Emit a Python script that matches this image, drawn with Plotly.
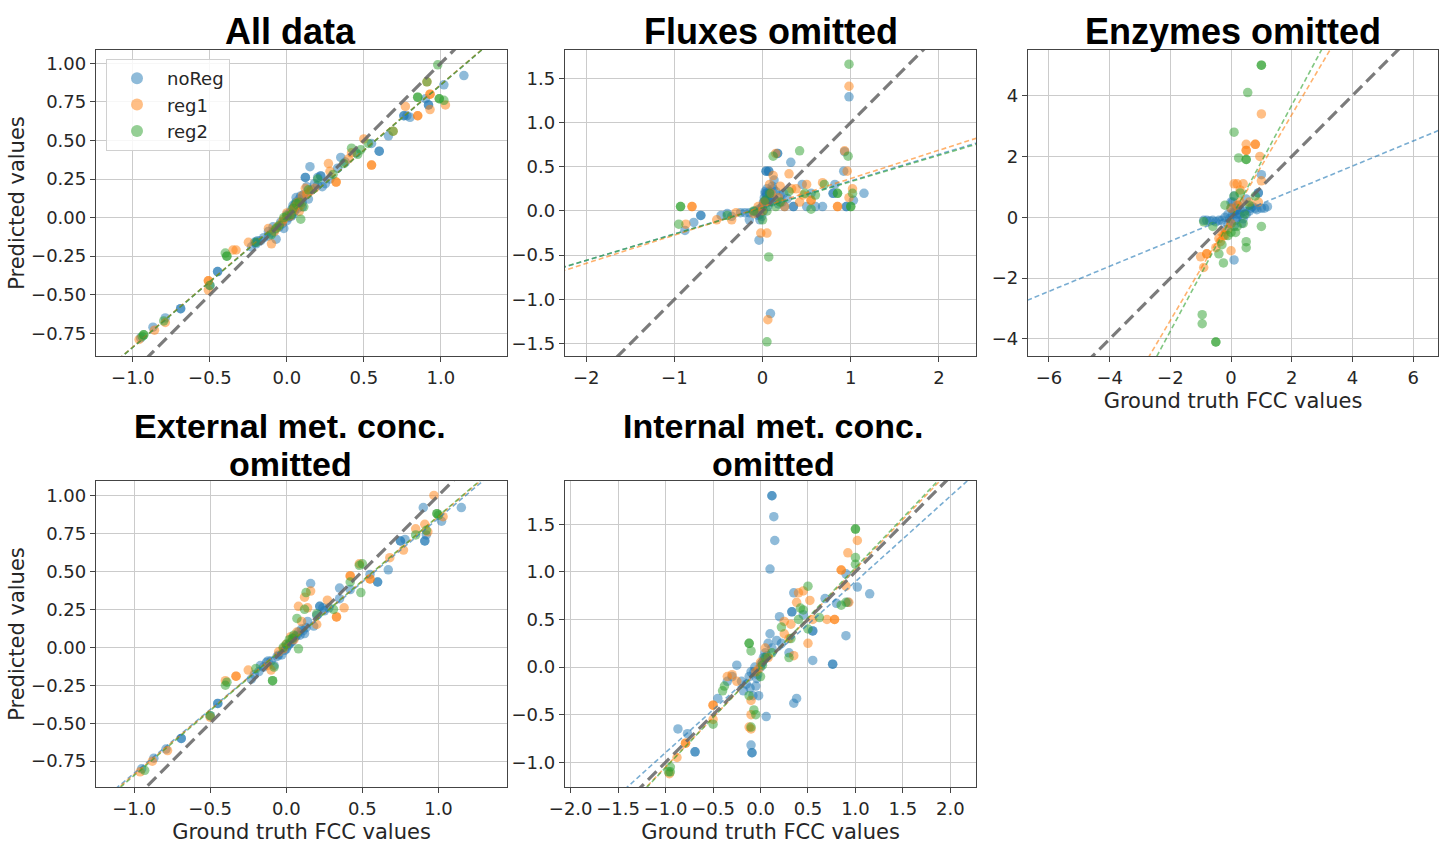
import plotly.graph_objects as go

W, H = 1445, 844

series_names = ["noReg", "reg1", "reg2"]
series_colors = ["#1f77b4", "#ff7f0e", "#2ca02c"]
fit_colors = ["rgba(31,119,180,0.6)", "rgba(255,127,14,0.6)", "rgba(44,160,44,0.6)"]

panel_titles = ["All data", "Fluxes omitted", "Enzymes omitted",
                "External met. conc.<br>omitted", "Internal met. conc.<br>omitted"]

# ---------------- Panel 1: All data ----------------
all_noreg_x = [-0.95, -0.87, -0.79, -0.69, -0.45, -0.50, -0.23, -0.21, -0.19, -0.17, -0.12, -0.10, -0.08, -0.07,
               -0.05, -0.03, -0.02, 0.00, 0.01, 0.02, 0.03, 0.04, 0.05, 0.06, 0.07, 0.08, 0.09, 0.10, 0.12, 0.13,
               0.15, 0.16, 0.18, 0.20, 0.22, 0.25, 0.28, 0.33, 0.35, 0.38, 0.45, 0.55, 0.60, 0.66, 0.76, 0.78,
               0.80, 0.90, 0.92, 1.02, 1.15, 0.02, 0.05, 0.08, -0.15,
               -0.04, 0.00, 0.03, 0.05, 0.07, 0.10, 0.11, -0.09, -0.12, 0.14, 0.20, 0.23, 0.04, -0.20, 0.06,
               -0.45, -0.69, 0.60, 0.76, 0.92, 0.12, 0.22, -0.20]
all_noreg_y = [-0.78, -0.71, -0.65, -0.59, -0.35, -0.44, -0.19, -0.16, -0.15, -0.15, -0.09, -0.10, -0.08, -0.14,
               -0.06, -0.04, -0.07, -0.02, 0.00, 0.03, 0.05, 0.02, 0.08, 0.10, 0.06, 0.12, 0.14, 0.10, 0.26, 0.20,
               0.33, 0.18, 0.22, 0.26, 0.27, 0.22, 0.25, 0.32, 0.39, 0.36, 0.42, 0.48, 0.43, 0.53, 0.66, 0.66,
               0.65, 0.77, 0.73, 0.86, 0.92, 0.01, 0.06, 0.09, -0.13,
               -0.03, 0.02, 0.01, 0.04, 0.09, 0.07, 0.15, -0.06, -0.12, 0.12, 0.21, 0.20, 0.08, -0.17, 0.13,
               -0.35, -0.59, 0.43, 0.66, 0.73, 0.26, 0.27, -0.16]
all_reg1_x = [-0.96, -0.86, -0.79, -0.51, -0.51, -0.35, -0.33, -0.25, -0.12, -0.10, -0.06, -0.03, 0.00, 0.02,
              0.05, 0.08, 0.10, 0.12, 0.15, 0.18, 0.27, 0.28, 0.32, 0.40, 0.42, 0.50, 0.55, 0.69, 0.77, 0.85,
              0.93, 0.93, 1.03, 0.91, -0.02, 0.04, 0.07, 0.09, -0.08, 0.13,
              -0.51, 0.55, 0.85, 0.32, 0.93]
all_reg1_y = [-0.79, -0.73, -0.68, -0.41, -0.47, -0.21, -0.21, -0.16, -0.07, -0.17, -0.06, -0.03, 0.03, 0.01,
              0.07, 0.04, 0.14, 0.19, 0.17, 0.19, 0.35, 0.30, 0.23, 0.38, 0.42, 0.51, 0.34, 0.56, 0.72, 0.66,
              0.70, 0.80, 0.73, 0.88, -0.01, 0.05, 0.10, 0.08, -0.09, 0.15,
              -0.41, 0.34, 0.66, 0.23, 0.80]
all_reg2_x = [-0.94, -0.93, -0.80, -0.50, -0.40, -0.39, -0.20, -0.10, -0.05, 0.00, 0.03, 0.06, 0.09, 0.11,
              0.14, 0.20, 0.30, 0.37, 0.42, 0.46, 0.48, 0.53, 0.69, 0.85, 0.91, 0.98, 0.99, 1.02,
              -0.02, 0.04, 0.08, -0.07, -0.93, 0.85, 0.99, -0.39]
all_reg2_y = [-0.77, -0.76, -0.67, -0.44, -0.23, -0.25, -0.16, -0.11, -0.05, 0.01, 0.02, 0.09, -0.01, 0.07,
              0.18, 0.25, 0.28, 0.35, 0.45, 0.41, 0.44, 0.48, 0.56, 0.78, 0.88, 0.99, 0.77, 0.76,
              0.00, 0.06, 0.10, -0.07, -0.76, 0.78, 0.77, -0.25]
all_fit_slope = [0.85, 0.85, 0.85]
all_fit_intercept = [0.01, 0.012, 0.01]

# ---------------- Panel 2: Fluxes omitted ----------------
flux_noreg_x = [-0.88, -0.78, -0.70, -0.47, -0.40, -0.35, -0.25, -0.20, -0.15, -0.10, -0.08, -0.05, -0.03, -0.02,
                0.00, 0.01, 0.02, 0.03, 0.05, 0.04, 0.07, 0.08, 0.10, 0.13, 0.15, 0.17, 0.20, 0.22, 0.25, 0.32,
                0.35, 0.45, 0.50, 0.55, 0.60, 0.68, 0.80, 0.82, 0.92, 0.93, 0.95, 0.98, 1.03, 1.15, 0.09, -0.04,
                -0.15, 0.03, 0.06, 0.12,
                -0.06, -0.04, -0.01, 0.01, 0.02, 0.04, 0.05, 0.06, 0.08, 0.10, 0.11, 0.14, 0.18, 0.24, 0.28,
                -0.70, 0.04, 0.07, 0.17, 0.35, 0.80, 0.95, 0.00, 0.02, 0.05, -0.03]
flux_noreg_y = [-0.22, -0.13, -0.05, -0.05, -0.03, -0.06, -0.02, -0.02, -0.02, -0.01, 0.00, -0.05, -0.10, 0.03,
                0.05, 0.10, 0.15, 0.20, 0.25, 0.45, 0.45, 0.15, 0.10, 0.35, 0.22, 0.65, 0.18, 0.10, 0.05, 0.55,
                0.05, 0.30, 0.05, 0.20, 0.05, 0.05, 0.20, 0.30, 0.45, 0.67, 0.05, 1.29, 0.12, 0.20, -1.16, -0.33,
                -0.10, 0.22, 0.12, 0.25,
                -0.02, 0.02, -0.06, 0.00, 0.08, 0.12, 0.18, 0.05, 0.22, 0.16, 0.28, 0.12, 0.08, 0.20, 0.14,
                -0.05, 0.45, 0.45, 0.65, 0.05, 0.20, 0.05, 0.05, 0.10, 0.20, -0.04]
flux_reg1_x = [-0.87, -0.80, -0.52, -0.35, -0.30, -0.10, -0.05, -0.02, 0.00, 0.05, 0.08, 0.12, 0.15, 0.18,
               0.25, 0.30, 0.33, 0.42, 0.50, 0.55, 0.68, 0.85, 0.93, 0.96, 0.98, 1.02, 0.98, 0.06,
               0.02, 0.10, 0.20, 0.38, 0.46, -0.80, 0.55, 0.85]
flux_reg1_y = [-0.15, 0.05, -0.10, -0.10, -0.02, -0.03, 0.05, -0.25, 0.00, -0.25, 0.30, 0.40, 0.65, 0.15,
               0.05, 0.42, 0.25, 0.10, 0.30, 0.12, 0.32, 0.05, 0.68, 0.45, 0.15, 0.25, 1.41, -1.23,
               0.10, 0.20, 0.28, 0.25, 0.18, 0.05, 0.12, 0.05]
flux_reg2_x = [-0.93, -0.95, -0.40, -0.10, 0.00, 0.05, 0.08, 0.12, 0.20, 0.42, 0.48, 0.55, 0.70, 0.85, 0.97,
               1.00, 1.02, 0.98, 0.07, 0.05, 0.03, 0.15, 0.30, 0.60, -0.93, 1.00, 0.85]
flux_reg2_y = [0.05, -0.15, -0.05, 0.00, -0.10, 0.00, 0.20, 0.62, 0.10, 0.68, 0.20, 0.02, 0.30, 0.20, 0.62,
               0.05, 0.20, 1.66, -0.52, -1.48, 0.12, 0.05, 0.22, 0.18, 0.05, 0.05, 0.20]
flux_fit_slope = [0.30, 0.32, 0.297]
flux_fit_intercept = [0.04, 0.047, 0.035]

# ---------------- Panel 3: Enzymes omitted ----------------
enz_noreg_x = [-0.9, -0.7, -0.5, -0.3, -0.2, -0.1, 0.0, 0.0, 0.05, 0.1, 0.1, 0.15, 0.2, 0.25, 0.3, 0.4, 0.5,
               0.6, 0.7, 0.8, 0.9, 1.0, 1.0, 1.2, 0.1, -0.2, 0.35, 0.5, 0.05, 0.15, -0.05,
               -0.6, -0.4, -0.1, 0.0, 0.2, 0.3, 0.45, 0.65, 0.85, 1.1, -0.8, 0.1, 0.2, 0.9]
enz_noreg_y = [-0.1, -0.12, -0.15, -0.1, 0.0, 0.1, 0.3, -0.2, 0.5, 0.7, -0.3, 0.2, 0.0, 0.4, 0.1, -0.05, 0.1,
               0.2, 0.35, 0.3, 0.8, 0.3, 1.4, 0.35, -1.4, -0.4, -0.2, 0.6, 0.1, -0.1, -0.05,
               -0.1, -0.1, -0.2, 0.5, 0.3, 0.25, 0.2, 0.3, 0.25, 0.3, -0.1, 0.2, 0.1, 0.8]
enz_reg1_x = [-1.0, -0.8, -0.9, -0.5, -0.4, -0.3, -0.2, -0.1, 0.0, 0.0, 0.1, 0.2, 0.3, 0.4, 0.5, 0.5, 0.8,
              0.95, 1.0, 0.3, 0.6, 0.9, 1.0, 0.0, -0.35, -0.25, 0.2, 0.5, 0.8, -0.8]
enz_reg1_y = [-1.3, -1.2, -1.65, -1.0, -0.7, -0.5, -0.6, -0.4, -1.1, -0.2, 1.1, 1.1, 0.9, 1.1, 2.2, 2.4, 2.4,
              2.0, 3.4, 0.5, 0.5, 0.5, 1.2, 0.3, -0.8, -0.6, 0.4, 2.2, 2.4, -1.2]
enz_reg2_x = [-0.9, -0.95, -0.95, -0.5, -0.4, -0.25, -0.3, 0.0, 0.1, 0.1, 0.25, 0.5, 0.5, 0.5, 0.55, 1.0,
              1.0, 0.2, 0.4, 0.3, -0.2, 0.6, 0.8, -0.1, -0.6, 0.15, 0.45, 1.0, -0.5, 0.5]
enz_reg2_y = [-0.15, -3.2, -3.5, -4.1, -1.2, -1.5, -0.9, -0.5, 2.8, 0.7, 1.95, 1.9, -0.8, -1.0, 4.1, 5.0,
              -0.3, -0.3, -0.2, 0.8, 0.4, 0.4, 0.7, -0.6, -0.3, -0.5, 0.1, 5.0, -4.1, 1.9]
enz_fit_slope = [0.412, 1.69, 1.856]
enz_fit_intercept = [0.037, -0.01, -0.03]

# ---------------- Panel 4: External met. conc. omitted ----------------
ext_noreg_x = [-0.95, -0.87, -0.79, -0.69, -0.45, -0.50, -0.23, -0.21, -0.18, -0.15, -0.13, -0.10, -0.08, -0.05,
               -0.03, 0.00, 0.02, 0.04, 0.06, 0.08, 0.10, 0.12, 0.14, 0.16, 0.18, 0.22, 0.25, 0.28, 0.35, 0.35,
               0.42, 0.55, 0.60, 0.67, 0.75, 0.78, 0.90, 0.91, 0.92, 1.02, 1.15, 0.03, 0.07, -0.12,
               -0.06, -0.01, 0.01, 0.05, 0.09, 0.11, 0.13, -0.17, 0.20, 0.24,
               -0.45, -0.69, 0.60, 0.75, 0.91, 0.22]
ext_noreg_y = [-0.80, -0.73, -0.67, -0.60, -0.37, -0.45, -0.21, -0.18, -0.16, -0.13, -0.10, -0.09, -0.12, -0.05,
               -0.05, -0.01, 0.02, 0.04, 0.07, 0.10, 0.12, 0.09, 0.17, 0.42, 0.14, 0.27, 0.24, 0.26, 0.39, 0.32,
               0.38, 0.48, 0.43, 0.51, 0.70, 0.71, 0.92, 0.70, 0.74, 0.83, 0.92, 0.03, 0.08, -0.09,
               -0.06, -0.02, 0.01, 0.06, 0.08, 0.11, 0.13, -0.12, 0.21, 0.26,
               -0.37, -0.60, 0.43, 0.70, 0.70, 0.27]
ext_reg1_x = [-0.96, -0.88, -0.78, -0.50, -0.40, -0.33, -0.25, -0.12, -0.10, -0.05, 0.00, 0.03, 0.08, 0.10,
              0.12, 0.14, 0.16, 0.20, 0.27, 0.33, 0.38, 0.42, 0.48, 0.55, 0.68, 0.77, 0.85, 0.91, 0.93, 1.03, 0.97,
              -0.02, 0.05, 0.07, -0.33, 0.33, 0.55, 0.42]
ext_reg1_y = [-0.82, -0.75, -0.68, -0.46, -0.22, -0.19, -0.15, -0.12, -0.15, -0.03, 0.02, 0.07, 0.27, 0.17,
              0.33, 0.26, 0.37, 0.15, 0.31, 0.20, 0.26, 0.47, 0.55, 0.45, 0.59, 0.64, 0.78, 0.81, 0.76, 0.86, 1.00,
              -0.01, 0.05, 0.10, -0.19, 0.20, 0.45, 0.47]
ext_reg2_x = [-0.93, -0.50, -0.40, -0.39, -0.20, -0.09, -0.08, -0.02, 0.02, 0.05, 0.08, 0.12, 0.13, 0.07,
              0.20, 0.31, 0.42, 0.48, 0.50, 0.49, 0.85, 0.92, 0.99, 1.00, 0.00, 0.04, -0.09, 0.99]
ext_reg2_y = [-0.81, -0.45, -0.25, -0.23, -0.14, -0.22, -0.13, 0.00, 0.05, 0.08, -0.01, 0.25, 0.36, 0.19,
              0.22, 0.25, 0.43, 0.54, 0.55, 0.36, 0.74, 0.77, 0.88, 0.87, 0.02, 0.06, -0.22, 0.88]
ext_fit_slope = [0.84, 0.85, 0.855]
ext_fit_intercept = [0.01, 0.012, 0.01]

# ---------------- Panel 5: Internal met. conc. omitted ----------------
int_noreg_x = [-0.87, -0.77, -0.69, -0.45, -0.35, -0.30, -0.25, -0.20, -0.18, -0.12, -0.10, -0.08, -0.06, -0.05,
               -0.03, -0.02, 0.00, 0.02, 0.03, 0.05, 0.06, -0.10, -0.09, 0.08, 0.10, 0.12, 0.14, 0.15, 0.10, 0.20,
               0.22, 0.30, 0.33, 0.35, 0.38, 0.35, 0.45, 0.55, 0.55, 0.68, 0.76, 0.80, 0.90, 0.90, 1.02, 1.15,
               0.92, 0.04, -0.04, -0.15, -0.07, 0.01, 0.07, 0.12, 0.17, -0.11,
               0.12, -0.69, -0.09, 0.76, 0.55, 0.33]
int_noreg_y = [-0.65, -0.70, -0.89, -0.33, -0.15, -0.10, 0.02, -0.15, -0.25, -0.10, -0.05, -0.30, 0.00, -0.20,
               -0.08, -0.30, 0.00, 0.05, 0.10, 0.15, -0.52, -0.82, -0.90, 0.25, 0.35, 1.80, 1.58, 1.33, 1.03, 0.53,
               0.25, 0.15, 0.58, -0.38, -0.33, 0.78, 0.55, 0.38, 0.07, 0.72, 0.03, 0.67, 0.98, 0.33, 0.84, 0.77,
               0.68, 0.08, -0.12, -0.18, -0.05, 0.04, 0.12, 0.20, 0.28, -0.22,
               1.80, -0.89, -0.90, 0.03, 0.38, 0.58]
int_reg1_x = [-0.96, -0.88, -0.79, -0.50, -0.50, -0.35, -0.30, -0.25, -0.10, -0.10, -0.12, -0.10, -0.05, 0.00,
              0.05, 0.25, 0.30, 0.25, 0.35, 0.38, 0.40, 0.45, 0.52, 0.50, 0.55, 0.70, 0.78, 0.85, 0.90, 0.93,
              0.92, 1.02, 0.32, -0.02, 0.08, -0.79, -0.50, 0.85, 0.78]
int_reg1_y = [-1.12, -0.95, -0.80, -0.40, -0.55, -0.10, -0.08, -0.15, -0.35, -0.50, -0.63, -0.65, -0.05, 0.05,
              0.20, 0.48, 0.30, 0.35, 0.12, 0.68, 0.78, 0.80, 0.70, 0.25, 0.50, 0.50, 0.50, 1.02, 0.85, 0.68,
              1.20, 1.33, 0.45, -0.02, 0.10, -0.80, -0.40, 1.02, 0.50]
int_reg2_x = [-0.97, -0.95, -0.50, -0.40, -0.38, -0.12, -0.10, -0.12, -0.10, -0.07, -0.05, 0.00, 0.05, 0.22,
              0.30, 0.32, 0.40, 0.45, 0.50, 0.50, 0.62, 0.85, 0.90, 1.00, 1.00, 1.00, 0.42, 0.02, 0.12,
              1.00, -0.12, -0.95]
int_reg2_y = [-1.10, -1.05, -0.60, -0.25, -0.20, 0.25, 0.17, -0.30, -0.63, -0.45, -0.50, -0.10, 0.10, 0.42,
              0.10, 0.30, 0.50, 0.60, 0.85, 0.40, 0.52, 0.65, 0.68, 1.45, 1.15, 1.08, 0.62, 0.02, 0.15,
              1.45, 0.25, -1.10]
int_fit_slope = [0.898, 1.04, 1.05]
int_fit_intercept = [0.0, -0.009, -0.005]

panel_points = [
    [(all_noreg_x, all_noreg_y), (all_reg1_x, all_reg1_y), (all_reg2_x, all_reg2_y)],
    [(flux_noreg_x, flux_noreg_y), (flux_reg1_x, flux_reg1_y), (flux_reg2_x, flux_reg2_y)],
    [(enz_noreg_x, enz_noreg_y), (enz_reg1_x, enz_reg1_y), (enz_reg2_x, enz_reg2_y)],
    [(ext_noreg_x, ext_noreg_y), (ext_reg1_x, ext_reg1_y), (ext_reg2_x, ext_reg2_y)],
    [(int_noreg_x, int_noreg_y), (int_reg1_x, int_reg1_y), (int_reg2_x, int_reg2_y)],
]
panel_fits = [
    (all_fit_slope, all_fit_intercept),
    (flux_fit_slope, flux_fit_intercept),
    (enz_fit_slope, enz_fit_intercept),
    (ext_fit_slope, ext_fit_intercept),
    (int_fit_slope, int_fit_intercept),
]

# axis ranges and ticks
x_ranges = [[-1.24, 1.43], [-2.24, 2.42], [-6.69, 6.82], [-1.25, 1.45], [-2.06, 2.27]]
y_ranges = [[-0.897, 1.086], [-1.64, 1.82], [-4.56, 5.50], [-0.92, 1.095], [-1.26, 1.955]]
x_ticks = [[-1.0, -0.5, 0.0, 0.5, 1.0], [-2, -1, 0, 1, 2], [-6, -4, -2, 0, 2, 4, 6],
           [-1.0, -0.5, 0.0, 0.5, 1.0], [-2.0, -1.5, -1.0, -0.5, 0.0, 0.5, 1.0, 1.5, 2.0]]
y_ticks = [[-0.75, -0.5, -0.25, 0.0, 0.25, 0.5, 0.75, 1.0], [-1.5, -1.0, -0.5, 0.0, 0.5, 1.0, 1.5],
           [-4, -2, 0, 2, 4], [-0.75, -0.5, -0.25, 0.0, 0.25, 0.5, 0.75, 1.0],
           [-1.0, -0.5, 0.0, 0.5, 1.0, 1.5]]
x_fmt = [".1f", "d", "d", ".1f", ".1f"]
y_fmt = [".2f", ".1f", "d", ".2f", ".1f"]
x_titles = ["", "", "Ground truth FCC values", "Ground truth FCC values", "Ground truth FCC values"]
y_titles = ["Predicted values", "", "", "Predicted values", ""]

# layout boxes in pixels (left, right, top, bottom)
boxes = [(96, 507, 50, 356), (565, 976, 50, 356), (1028, 1438, 50, 356),
         (96, 507, 481, 787), (565, 976, 481, 787)]

fig = go.Figure()
layout = dict(
    width=W, height=H, margin=dict(l=0, r=0, t=0, b=0, autoexpand=False),
    paper_bgcolor="white", plot_bgcolor="white",
    font=dict(family="DejaVu Sans", color="#262626", size=18),
    showlegend=True,
    legend=dict(x=106 / W, y=1 - 59 / H, xanchor="left", yanchor="top",
                bgcolor="rgba(255,255,255,0.85)", bordercolor="#d0d0d0", borderwidth=1,
                font=dict(family="DejaVu Sans", size=18, color="#262626"),
                itemsizing="constant", itemwidth=50, tracegroupgap=0),
    annotations=[],
)

for p in range(5):
    ax = "" if p == 0 else str(p + 1)
    xref = "x" + ax
    yref = "y" + ax
    l, r, t, b = boxes[p]
    common = dict(showline=True, mirror=True, linecolor="#444444", linewidth=1.3,
                  ticks="outside", ticklen=5, tickcolor="#444444", tickwidth=1.2,
                  showgrid=True, gridcolor="#cbcbcb", gridwidth=1, zeroline=False, automargin=False,
                  tickfont=dict(family="DejaVu Sans", size=18, color="#262626"))
    layout["xaxis" + ax] = dict(common, domain=[l / W, r / W], range=x_ranges[p], tickvals=x_ticks[p],
                                tickformat=x_fmt[p], anchor=yref,
                                title=dict(text=x_titles[p], standoff=6,
                                           font=dict(family="DejaVu Sans", size=21, color="#262626")))
    layout["yaxis" + ax] = dict(common, domain=[1 - b / H, 1 - t / H], range=y_ranges[p], tickvals=y_ticks[p],
                                tickformat=y_fmt[p], anchor=xref,
                                title=dict(text=y_titles[p], standoff=0,
                                           font=dict(family="DejaVu Sans", size=21, color="#262626")))

    # scatter points
    for s in range(3):
        xs, ys = panel_points[p][s]
        fig.add_trace(go.Scatter(
            x=xs, y=ys, mode="markers", name=series_names[s], legendgroup=series_names[s],
            showlegend=(p == 0),
            marker=dict(color=series_colors[s], size=9.5, opacity=0.5, line=dict(width=0)),
            xaxis=xref, yaxis=yref))
    # fit lines
    slopes, inters = panel_fits[p]
    x0, x1 = x_ranges[p][0] - 1, x_ranges[p][1] + 1
    for s in range(3):
        fig.add_trace(go.Scatter(
            x=[x0, x1], y=[slopes[s] * x0 + inters[s], slopes[s] * x1 + inters[s]],
            mode="lines", showlegend=False, hoverinfo="skip",
            line=dict(color=fit_colors[s], width=1.6, dash="5px,3px"),
            xaxis=xref, yaxis=yref))
    # identity line
    lo = min(x_ranges[p][0], y_ranges[p][0]) - 1
    hi = max(x_ranges[p][1], y_ranges[p][1]) + 1
    fig.add_trace(go.Scatter(
        x=[lo, hi], y=[lo, hi], mode="lines", showlegend=False, hoverinfo="skip",
        line=dict(color="rgba(100,100,100,0.85)", width=3.2, dash="12px,6px"),
        xaxis=xref, yaxis=yref))

# titles
title_pos = [(290, 31), (771, 31), (1233, 31)]
for i, (cx, cy) in enumerate(title_pos):
    layout["annotations"].append(dict(
        text="<b>" + panel_titles[i] + "</b>", x=cx / W, y=1 - cy / H, xref="paper", yref="paper",
        xanchor="center", yanchor="middle", showarrow=False,
        font=dict(family="Liberation Sans", size=36, color="black")))
two_line_pos = [(290, 3), (773, 4)]
for j, (cx, idx) in enumerate(two_line_pos):
    first, second = panel_titles[idx].split("<br>")
    for line_text, cy in ((first, 426), (second, 464)):
        layout["annotations"].append(dict(
            text="<b>" + line_text + "</b>", x=cx / W, y=1 - cy / H, xref="paper", yref="paper",
            xanchor="center", yanchor="middle", showarrow=False,
            font=dict(family="Liberation Sans", size=34, color="black")))

fig.update_layout(**layout)
fig.write_html("out.html")
